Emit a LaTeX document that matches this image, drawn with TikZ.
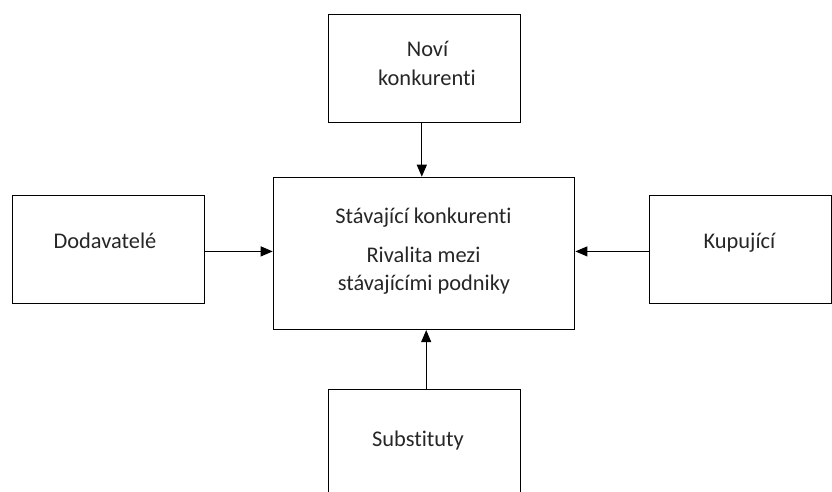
\documentclass[tikz,border=0pt]{standalone}
\usepackage{fontspec}
\setmainfont[Ligatures={NoCommon},Contextuals={NoAlternate}]{Carlito}
\usetikzlibrary{arrows.meta}
\definecolor{txtc}{HTML}{262626}
\tikzset{
  box/.style={draw=black, line width=1.1pt, rectangle, inner sep=0pt, anchor=north west},
  txt/.style={anchor=base, inner sep=0pt, text=txtc, font=\fontsize{22.4}{27}\selectfont},
  arr/.style={draw=black, line width=1.1pt, -{Triangle[length=12pt,width=10pt]}}
}
\begin{document}
\begin{tikzpicture}[x=1pt,y=-1pt]
\useasboundingbox (0,0) rectangle (832,491);
\clip (0,0) rectangle (832,491);
% boxes
\node[box, minimum width=191.7pt, minimum height=108.3pt] (top) at (328.3,14) {};
\node[box, minimum width=301.6pt, minimum height=152.3pt] (mid) at (272.7,176.7) {};
\node[box, minimum width=192pt, minimum height=107.7pt] (lft) at (12,195) {};
\node[box, minimum width=182pt, minimum height=107.7pt] (rgt) at (649.3,195) {};
\node[box, minimum width=191.7pt, minimum height=115pt] (bot) at (328.3,389.3) {};
% texts
\node[txt] (t1) at (427.5,56.7) {Noví};
\node[txt] (t2) at (427,85) {konkurenti};
\node[txt] (m1) at (423.5,223.3) {Stávající konkurenti};
\node[txt] (m2) at (423.5,262) {Rivalita mezi};
\node[txt] (m3) at (424,290) {stávajícími podniky};
\node[txt] (l1) at (105,248.3) {Dodavatelé};
\node[txt] (r1) at (739.5,248.3) {Kupující};
\node[txt] (b1) at (418,446.7) {Substituty};
% connectors
\coordinate (ta) at ([xshift=-2.9pt]top.south);
\draw[arr] (ta) -- (ta |- mid.north);
\coordinate (ba) at ([xshift=1.5pt]bot.north);
\draw[arr] (ba) -- (ba |- mid.south);
\coordinate (la) at ([yshift=-2pt]lft.east);
\draw[arr] (la) -- (la -| mid.west);
\coordinate (ra) at ([yshift=-2pt]rgt.west);
\draw[arr] (ra) -- (ra -| mid.east);
\end{tikzpicture}
\end{document}
